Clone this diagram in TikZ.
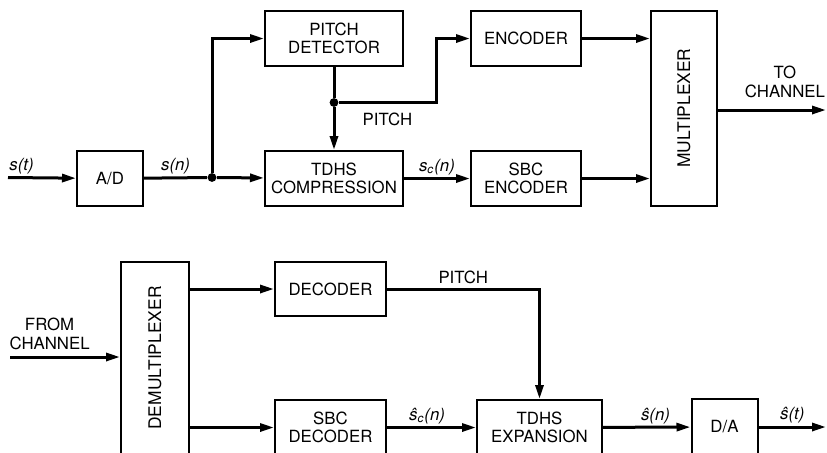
\documentclass[tikz,border=0pt]{standalone}
\usepackage{fontspec}
\setmainfont{TeX Gyre Heros}
\usepackage{tikz}
\usetikzlibrary{arrows.meta,calc}

\begin{document}
\begin{tikzpicture}[
  x=0.5pt, y=-0.5pt,
  font=\fontsize{8.4}{9.2}\selectfont,
  block/.style={draw, line width=1pt, align=center, inner sep=0pt, minimum width=#1, minimum height=27.5pt},
  block/.default=69pt,
  tall/.style={draw, line width=1pt, inner sep=0pt, minimum width=33pt, minimum height=97.5pt},
  vtext/.style={rotate=90, font=\fontsize{8.7}{9.2}\selectfont},
  arrow/.style={-{Triangle[length=7pt, width=4pt]}, line width=1.5pt},
  wire/.style={line width=1.5pt},
  dot/.style={circle, fill, inner sep=0pt, minimum size=4.4pt},
  note/.style={inner sep=1pt, align=center},
  sig/.style={inner sep=1pt, font=\fontsize{8.4}{9.2}\selectfont\itshape}
]
  \clip (0,0) rectangle (827,452);

  % transmitter
  \node[block=33pt] (ad) at (110,178.5) {A/D};
  \node[block] (pitchdet) at (334,38.5) {PITCH\\DETECTOR};
  \node[block] (comp) at (334,178.5) {TDHS\\COMPRESSION};
  \node[block=55pt] (enc) at (526,38.5) {ENCODER};
  \node[block=55pt] (sbcenc) at (526,178.5) {SBC\\ENCODER};
  \node[tall] (mux) at (684,108) {};
  \node[vtext] at (mux) {MULTIPLEXER};

  \coordinate (sin) at (8,177.5);
  \coordinate (tochan) at (826,110);
  \node[dot] (j1) at (212,177.5) {};
  \node[dot] (j2) at (334,102.5) {};
  \coordinate (kink) at (436,102.5);

  \draw[arrow] (sin) -- node[sig, above, pos=0.2]{s(t)} (ad);
  \draw[wire] (ad) -- node[sig, above]{s(n)} (j1);
  \draw[arrow] (j1) -- (comp);
  \draw[arrow] (j1) |- (pitchdet);
  \draw[wire] (pitchdet) -- (j2);
  \draw[arrow] (j2) -- (comp);
  \draw[arrow] (j2) -- node[note, below=3.5pt]{PITCH} (kink) |- (enc);
  \draw[arrow] (comp) -- node[sig, above]{s\textsubscript{c}(n)} (sbcenc);
  \draw[arrow] (enc) -- (enc -| mux.west);
  \draw[arrow] (sbcenc) -- (sbcenc -| mux.west);
  \draw[arrow] (mux.east |- tochan) -- node[note, above=4.5pt, pos=0.62]{TO\\CHANNEL} (tochan);

  % receiver
  \node[tall, minimum width=34pt, minimum height=96pt] (demux) at (155,358) {};
  \node[vtext] at (demux) {DEMULTIPLEXER};
  \node[block=55.5pt, minimum height=27pt] (dec) at (330.5,289) {DECODER};
  \node[block=55.5pt] (sbcdec) at (330.5,427.5) {SBC\\DECODER};
  \node[block=62.5pt] (exp) at (539.5,427.5) {TDHS\\EXPANSION};
  \node[block=33pt, minimum height=28pt] (da) at (724.5,427) {D/A};

  \coordinate (fromchan) at (10,357);
  \coordinate (sout) at (826,427);

  \draw[arrow] (fromchan) -- node[note, above=2pt, pos=0.36]{FROM\\CHANNEL} (demux.west |- fromchan);
  \draw[arrow] (demux.east |- dec) -- (dec);
  \draw[arrow] (demux.east |- sbcdec) -- (sbcdec);
  \draw[arrow] (dec) -| node[note, above=1pt, pos=0.25]{PITCH} (exp);
  \draw[arrow] (sbcdec) -- node[sig, above, pos=0.45]{\^{s}\textsubscript{c}(n)} (exp);
  \draw[arrow] (exp) -- node[sig, above, pos=0.6]{\^{s}(n)} (da);
  \draw[arrow] (da) -- node[sig, above, pos=0.5]{\^{s}(t)} (sout);
\end{tikzpicture}
\end{document}
